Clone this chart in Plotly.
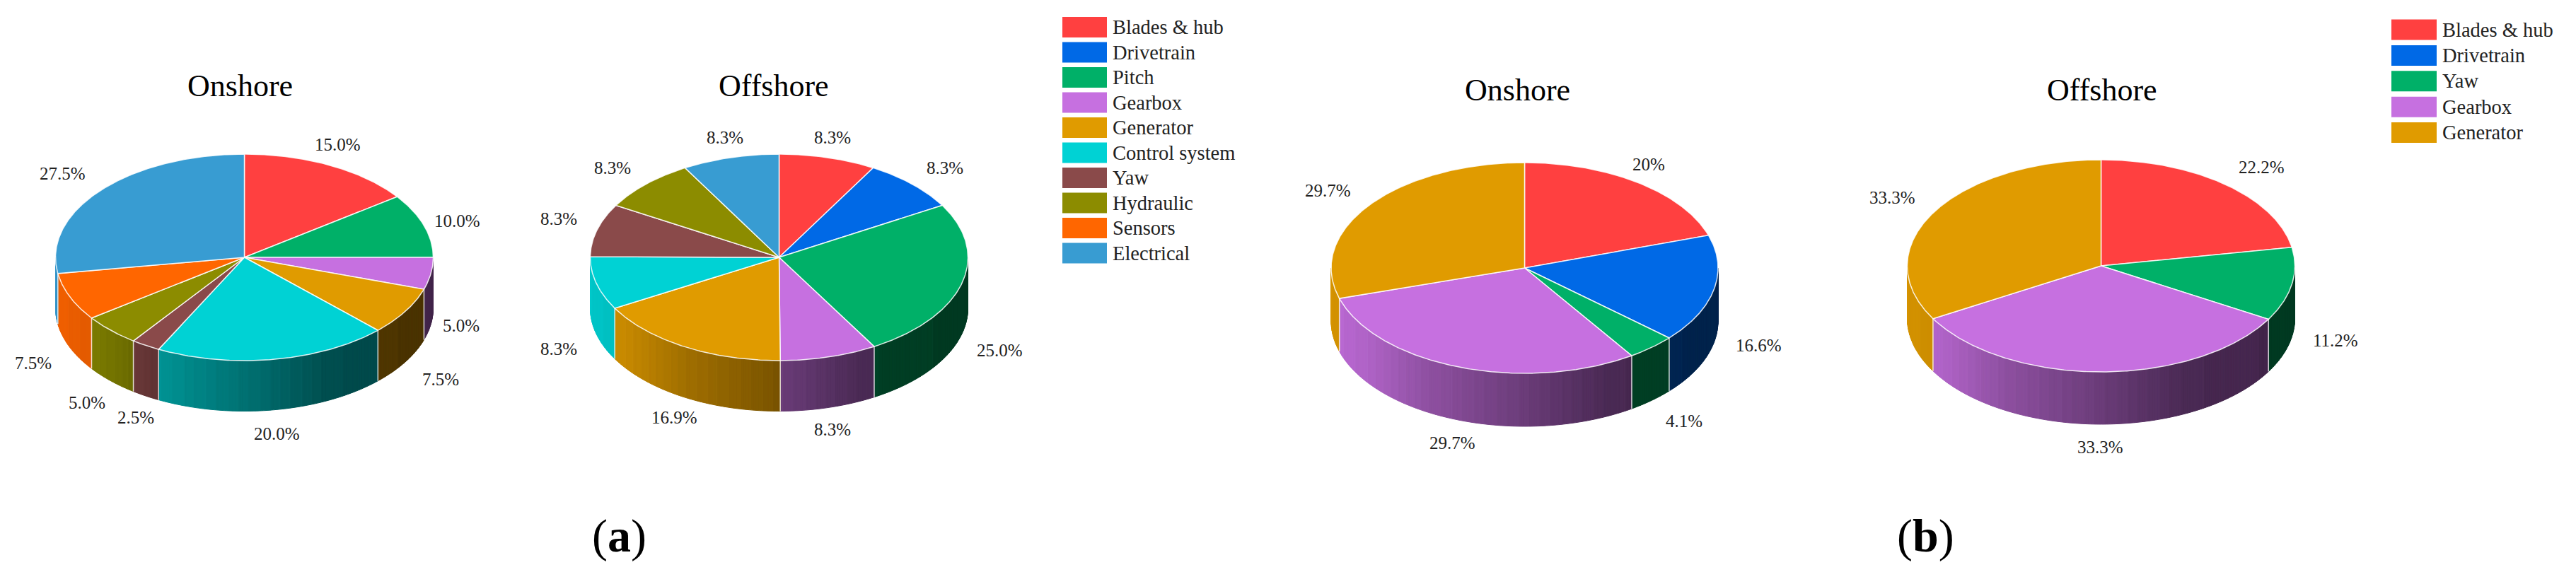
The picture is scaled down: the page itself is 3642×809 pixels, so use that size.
import numpy as np
import plotly.graph_objects as go

# panel (a) failures by component
ONSHORE_A_NAMES = ['Blades & hub', 'Pitch', 'Gearbox', 'Generator', 'Control system',
                   'Yaw', 'Hydraulic', 'Sensors', 'Electrical']
ONSHORE_A_VALUES = [15.0, 10.0, 5.0, 7.5, 20.0, 2.5, 5.0, 7.5, 27.5]
OFFSHORE_A_NAMES = ['Blades & hub', 'Drivetrain', 'Pitch', 'Gearbox', 'Generator',
                    'Control system', 'Yaw', 'Hydraulic', 'Electrical']
OFFSHORE_A_VALUES = [8.3, 8.3, 25.0, 8.3, 16.9, 8.3, 8.3, 8.3, 8.3]
LEGEND_A = ['Blades & hub', 'Drivetrain', 'Pitch', 'Gearbox', 'Generator',
            'Control system', 'Yaw', 'Hydraulic', 'Sensors', 'Electrical']

# panel (b)
ONSHORE_B_NAMES = ['Blades & hub', 'Drivetrain', 'Yaw', 'Gearbox', 'Generator']
ONSHORE_B_VALUES = [20, 16.6, 4.1, 29.7, 29.7]
OFFSHORE_B_NAMES = ['Blades & hub', 'Yaw', 'Gearbox', 'Generator']
OFFSHORE_B_VALUES = [22.2, 11.2, 33.3, 33.3]
LEGEND_B = ['Blades & hub', 'Drivetrain', 'Yaw', 'Gearbox', 'Generator']

COLORS_A = {'Blades & hub': '#FF4040', 'Drivetrain': '#0069E6', 'Pitch': '#00B068',
            'Gearbox': '#C670E0', 'Generator': '#E09B00', 'Control system': '#00D2D4',
            'Yaw': '#8A4A4A', 'Hydraulic': '#8C8C00', 'Sensors': '#FF6600',
            'Electrical': '#389CD2'}
COLORS_B = dict(COLORS_A, Yaw='#00B068')

# small label shifts in pixels, on top of the position worked out from the slice angle
NUDGE_ON_A = [(-12, -3), (0, 3), (-7, -11), (7, 1), (-4, -4), (12, -3), (2, 2), (-6, 3), (-16, -4)]
NUDGE_OFF_A = [(-6, 1), (11, -2), (5, 7), (-8, -6), (11, -5), (-5, 6), (-6, -8), (-12, -2), (5, 1)]
NUDGE_ON_B = [(-14, -2), (14, -10), (13, -2), (7, -4), (-18, -3)]
NUDGE_OFF_B = [(19, -2), (12, -8), (0, -6), (-15, -6)]

FONT = 'Liberation Serif'
WIDTH, HEIGHT = 3642, 809


def shade(color, t):
    # side wall goes from nearly full colour on the left to dark on the right
    k = np.interp(t, [-1, -0.8, -0.5, 0, 0.45, 1], [0.95, 0.88, 0.72, 0.54, 0.37, 0.33])
    k = round(k * 48) / 48
    r, g, b = [int(color[i:i + 2], 16) for i in (1, 3, 5)]
    return f'rgb({int(r * k)},{int(g * k)},{int(b * k)})'


def add_pie(fig, names, values, nudges, colors, title, fmt, cx, cy, rx, ry, depth, title_x, title_y):
    total = sum(values)
    edges = np.cumsum([0] + list(values)) / total * 360
    px_ = lambda a: cx + rx * np.sin(np.radians(a))
    py_ = lambda a: cy - ry * np.cos(np.radians(a))

    # side wall, strips grouped by colour
    strips = {}
    for i, name in enumerate(names):
        lo, hi = max(edges[i], 90), min(edges[i + 1], 270)
        if lo >= hi:
            continue
        angles = np.linspace(lo, hi, max(2, int((hi - lo) / 0.75) + 1))
        for a0, a1 in zip(angles[:-1], angles[1:]):
            c = shade(colors[name], (px_((a0 + a1) / 2) - cx) / rx)
            xs, ys = strips.setdefault(c, ([], []))
            xs += [px_(a0), px_(a1), px_(a1), px_(a0), px_(a0), None]
            ys += [py_(a0), py_(a1), py_(a1) + depth, py_(a0) + depth, py_(a0), None]
    for c, (xs, ys) in strips.items():
        fig.add_trace(go.Scatter(x=xs, y=ys, mode='lines', fill='toself', fillcolor=c,
                                 line=dict(color=c, width=1), hoverinfo='skip',
                                 showlegend=False))

    # slice borders on the wall
    for e in edges[1:-1]:
        if 90 < e < 270:
            fig.add_trace(go.Scatter(x=[px_(e), px_(e)], y=[py_(e), py_(e) + depth],
                                     mode='lines', line=dict(color='rgba(255,255,255,0.8)', width=1.5),
                                     hoverinfo='skip', showlegend=False))

    # top face
    for i, name in enumerate(names):
        arc = np.linspace(edges[i], edges[i + 1], max(3, int(edges[i + 1] - edges[i]) * 2))
        fig.add_trace(go.Scatter(
            x=[cx] + list(px_(arc)) + [cx], y=[cy] + list(py_(arc)) + [cy],
            mode='lines', fill='toself', fillcolor=colors[name],
            line=dict(color='rgba(255,255,255,0.85)', width=1.5),
            name=name, text=f'{name}: {values[i]}%', hoverinfo='text', showlegend=False))

    # percent labels follow the slice middle, front ones drop below the wall
    for i, v in enumerate(values):
        mid = (edges[i] + edges[i + 1]) / 2
        s, co = np.sin(np.radians(mid)), np.cos(np.radians(mid))
        x = px_(mid) + 50 * s + nudges[i][0]
        y = py_(mid) - 30 * co + nudges[i][1]
        if co < 0:
            y += depth + 8
        fig.add_annotation(x=x, y=y, text=f'{v:{fmt}}%', showarrow=False,
                           xanchor='center', yanchor='middle',
                           font=dict(family=FONT, size=25, color='#222222'))
    fig.add_annotation(x=title_x, y=title_y, text=title, showarrow=False,
                       xanchor='center', yanchor='middle',
                       font=dict(family=FONT, size=44, color='black'))


def add_legend(fig, names, colors, x0, x1, y0, step, height):
    for i, name in enumerate(names):
        yc = y0 + i * step
        fig.add_shape(type='rect', x0=x0, x1=x1, y0=yc - height / 2, y1=yc + height / 2,
                      fillcolor=colors[name], line=dict(width=0), xref='x', yref='y')
        fig.add_annotation(x=x1 + 6, y=yc, text=name, showarrow=False,
                           xanchor='left', yanchor='middle',
                           font=dict(family=FONT, size=28.5, color='#222222'))


fig = go.Figure()
add_pie(fig, ONSHORE_A_NAMES, ONSHORE_A_VALUES, NUDGE_ON_A, COLORS_A, 'Onshore', '.1f',
        345.5, 364, 267, 146, 71.5, 339, 121)
add_pie(fig, OFFSHORE_A_NAMES, OFFSHORE_A_VALUES, NUDGE_OFF_A, COLORS_A, 'Offshore', '.1f',
        1101.5, 364, 267, 146, 71.5, 1093.5, 121)
add_pie(fig, ONSHORE_B_NAMES, ONSHORE_B_VALUES, NUDGE_ON_B, COLORS_B, 'Onshore', 'g',
        2155.5, 379, 273.5, 149, 75, 2145, 127)
add_pie(fig, OFFSHORE_B_NAMES, OFFSHORE_B_VALUES, NUDGE_OFF_B, COLORS_B, 'Offshore', 'g',
        2970.5, 376, 274, 150, 74, 2972, 127)

add_legend(fig, LEGEND_A, COLORS_A, 1502, 1565, 38.5, 35.5, 29)
add_legend(fig, LEGEND_B, COLORS_B, 3381, 3445, 42, 36.4, 29)

for x, letter in [(875.5, 'a'), (2722, 'b')]:
    fig.add_annotation(x=x, y=758, text=f'(<b>{letter}</b>)', showarrow=False,
                       xanchor='center', yanchor='middle',
                       font=dict(family=FONT, size=66, color='black'))

fig.update_layout(
    width=WIDTH, height=HEIGHT,
    margin=dict(l=0, r=0, t=0, b=0),
    paper_bgcolor='white', plot_bgcolor='white',
    xaxis=dict(range=[0, WIDTH], visible=False),
    yaxis=dict(range=[HEIGHT, 0], visible=False),
    showlegend=False,
)
fig.write_html("out.html", config={'displayModeBar': False},
               post_script="document.body.style.margin='0';")
